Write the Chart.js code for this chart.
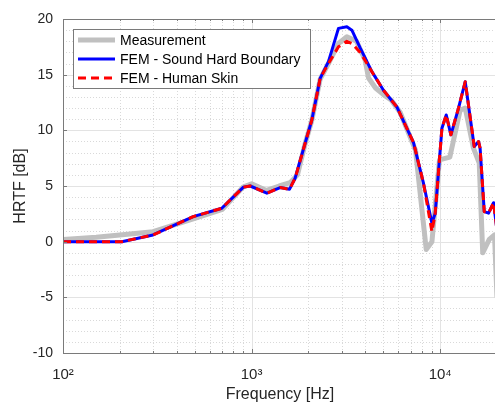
<!DOCTYPE html>
<html lang="en">

<head>
    <meta charset="UTF-8">
    <title>HRTF</title>
    <script src="https://cdn.jsdelivr.net/npm/chart.js@4.4.0/dist/chart.umd.min.js"></script>
    <style>
        body { margin: 0; overflow: hidden; background: #fff; }
        .box { position: relative; width: 497px; height: 405px; }
    </style>
</head>

<body>
    <div class="box">
        <canvas id="chartCanvas"></canvas>
    </div>
    <script>
        // measurement curve
        let measFreq = [100, 150, 200, 300, 500, 700, 900, 1000, 1200, 1400, 1600, 1750, 1922, 2086, 2309, 2555, 2887, 3199, 3600, 4000, 4168, 4540, 5003, 5510, 6135, 7400, 8430, 9036, 9910, 11250, 12750, 13570, 15000, 16100, 16800, 18200, 19400, 20000];
        let measVal = [0.2, 0.4, 0.6, 0.9, 2.1, 2.9, 4.9, 5.2, 4.6, 5.0, 5.3, 6.0, 8.8, 10.9, 14.6, 16.0, 17.8, 18.4, 18.0, 16.3, 14.7, 13.8, 13.2, 12.7, 11.6, 8.2, -0.7, 0.0, 7.35, 7.6, 11.8, 12.0, 8.4, 7.05, -1.0, 0.2, 0.6, -5.0];

        // FEM curves share the same frequencies
        let femFreq = [100, 205, 300, 490, 695, 905, 983, 1205, 1416, 1587, 1701, 1922, 2086, 2309, 2555, 2887, 3199, 3401, 3763, 4342, 5003, 5891, 7217, 8150, 9036, 9408, 10210, 10760, 11394, 12502, 13572, 15150, 15970, 16270, 17120, 18040, 19180, 20000];
        let hardVal = [0, 0, 0.6, 2.25, 3.0, 4.9, 5.0, 4.35, 4.86, 4.7, 5.7, 8.84, 10.93, 14.67, 16.17, 19.16, 19.3, 19.0, 17.4, 15.27, 13.6, 12.1, 8.9, 5.25, 1.66, 2.56, 10.19, 11.38, 9.6, 12.0, 14.37, 8.54, 8.99, 8.4, 2.7, 2.56, 3.5, 1.0];
        let skinVal = [0, 0, 0.6, 2.25, 3.0, 4.9, 5.0, 4.35, 4.86, 4.7, 5.7, 8.84, 10.93, 14.67, 16.0, 17.5, 18.0, 17.8, 17.0, 15.27, 13.6, 12.1, 8.9, 5.25, 0.9, 2.56, 10.19, 11.38, 9.6, 12.0, 14.37, 8.54, 8.99, 8.4, 2.7, 2.56, 3.5, 1.0];

        let xTicks = [100, 1000, 10000];
        let xTickText = ['10²', '10³', '10⁴'];
        let legendNames = ['Measurement', 'FEM - Sound Hard Boundary', 'FEM - Human Skin'];

        let pts = (xs, ys) => xs.map((x, i) => ({ x: x, y: ys[i] }));

        let textCol = '#262626';
        let fontFam = '"Liberation Sans", Arial, sans-serif';

        // grid, box and tick marks in MATLAB style
        let matlabAxes = {
            id: 'matlabAxes',
            beforeDatasetsDraw(chart) {
                let ctx = chart.ctx, a = chart.chartArea;
                let xs = chart.scales.x, ys = chart.scales.y;
                ctx.save();
                ctx.lineWidth = 1;
                // minor
                ctx.strokeStyle = '#d9d9d9';
                ctx.setLineDash([1, 2]);
                for (let v = -10; v <= 20; v++) {
                    if (v % 5 === 0) continue;
                    let y = Math.round(ys.getPixelForValue(v)) + 0.5;
                    ctx.beginPath(); ctx.moveTo(a.left, y); ctx.lineTo(a.right, y); ctx.stroke();
                }
                for (let d = 100; d < 20000; d *= 10) {
                    for (let k = 2; k <= 9; k++) {
                        let f = d * k;
                        if (f > 20000) break;
                        let x = Math.round(xs.getPixelForValue(f)) + 0.5;
                        ctx.beginPath(); ctx.moveTo(x, a.top); ctx.lineTo(x, a.bottom); ctx.stroke();
                    }
                }
                // major
                ctx.setLineDash([]);
                ctx.strokeStyle = '#e3e3e3';
                for (let v = -5; v < 20; v += 5) {
                    let y = Math.round(ys.getPixelForValue(v)) + 0.5;
                    ctx.beginPath(); ctx.moveTo(a.left, y); ctx.lineTo(a.right, y); ctx.stroke();
                }
                xTicks.forEach(f => {
                    let x = Math.round(xs.getPixelForValue(f)) + 0.5;
                    ctx.beginPath(); ctx.moveTo(x, a.top); ctx.lineTo(x, a.bottom); ctx.stroke();
                });
                ctx.restore();
            },
            afterDraw(chart) {
                let ctx = chart.ctx, a = chart.chartArea;
                let xs = chart.scales.x, ys = chart.scales.y;
                ctx.save();
                ctx.strokeStyle = '#7a7a7a';
                ctx.lineWidth = 1;
                ctx.strokeRect(Math.round(a.left) + 0.5, Math.round(a.top) + 0.5, Math.round(a.right - a.left), Math.round(a.bottom - a.top));
                // tick marks pointing inward
                for (let v = -10; v <= 20; v += 5) {
                    let y = Math.round(ys.getPixelForValue(v)) + 0.5;
                    ctx.beginPath(); ctx.moveTo(a.left, y); ctx.lineTo(a.left + 4, y); ctx.stroke();
                }
                for (let d = 100; d < 20000; d *= 10) {
                    for (let k = 1; k <= 9; k++) {
                        let f = d * k;
                        if (f > 20000) break;
                        let len = k === 1 ? 4 : 2;
                        let x = Math.round(xs.getPixelForValue(f)) + 0.5;
                        ctx.beginPath(); ctx.moveTo(x, a.bottom); ctx.lineTo(x, a.bottom - len); ctx.stroke();
                        ctx.beginPath(); ctx.moveTo(x, a.top); ctx.lineTo(x, a.top + len); ctx.stroke();
                    }
                }

                // legend box
                let lx = 73, ly = 29, lw = 237, lh = 59;
                ctx.fillStyle = '#fff';
                ctx.fillRect(lx, ly, lw, lh);
                ctx.strokeStyle = '#7a7a7a';
                ctx.strokeRect(lx + 0.5, ly + 0.5, lw, lh);
                let styles = chart.data.datasets;
                ctx.font = '14px ' + fontFam;
                ctx.textBaseline = 'middle';
                legendNames.forEach((name, i) => {
                    let y = ly + 11 + i * 19;
                    let ds = styles[i];
                    ctx.strokeStyle = ds.borderColor;
                    ctx.lineWidth = ds.borderWidth;
                    ctx.setLineDash(ds.borderDash || []);
                    ctx.beginPath(); ctx.moveTo(lx + 5, y); ctx.lineTo(lx + 42, y); ctx.stroke();
                    ctx.setLineDash([]);
                    ctx.fillStyle = '#000';
                    ctx.fillText(name, lx + 47, y + 1);
                });
                ctx.restore();
            }
        };

        let mychart = document.getElementById('chartCanvas').getContext('2d');
        let chart = new Chart(mychart, {
            type: 'line',
            data: {
                datasets: [
                    {
                        label: legendNames[0],
                        data: pts(measFreq, measVal),
                        borderColor: 'rgb(192,192,192)',
                        borderWidth: 5,
                        order: 3
                    },
                    {
                        label: legendNames[1],
                        data: pts(femFreq, hardVal),
                        borderColor: 'rgb(0,0,255)',
                        borderWidth: 3,
                        order: 2
                    },
                    {
                        label: legendNames[2],
                        data: pts(femFreq, skinVal),
                        borderColor: 'rgb(255,0,0)',
                        borderWidth: 3,
                        borderDash: [8, 5],
                        order: 1
                    }
                ]
            },
            options: {
                responsive: true,
                maintainAspectRatio: false,
                animation: false,
                elements: { point: { radius: 0 }, line: { tension: 0, borderJoinStyle: 'round' } },
                layout: { padding: { top: 19, right: 0, left: 0, bottom: 0 } },
                plugins: { legend: { display: false }, tooltip: { enabled: false } },
                scales: {
                    x: {
                        type: 'logarithmic',
                        min: 100,
                        max: 20000,
                        grid: { display: false },
                        border: { display: false },
                        afterFit: s => { s.height = 52; },
                        afterBuildTicks: s => { s.ticks = xTicks.map(v => ({ value: v })); },
                        ticks: {
                            autoSkip: false,
                            maxRotation: 0,
                            padding: 5,
                            color: textCol,
                            font: { family: fontFam, size: 15 },
                            callback: v => xTickText[xTicks.indexOf(v)]
                        },
                        title: {
                            display: true,
                            text: 'Frequency [Hz]',
                            color: textCol,
                            font: { family: fontFam, size: 16 },
                            padding: { top: 0, bottom: 1 }
                        }
                    },
                    y: {
                        min: -10,
                        max: 20,
                        grid: { display: false },
                        border: { display: false },
                        afterFit: s => { s.width = 63; },
                        ticks: {
                            stepSize: 5,
                            padding: 2,
                            color: textCol,
                            font: { family: fontFam, size: 14 }
                        },
                        title: {
                            display: true,
                            text: 'HRTF [dB]',
                            color: textCol,
                            font: { family: fontFam, size: 16 },
                            padding: { top: 11, bottom: 0 }
                        }
                    }
                }
            },
            plugins: [matlabAxes]
        });
    </script>
</body>

</html>
